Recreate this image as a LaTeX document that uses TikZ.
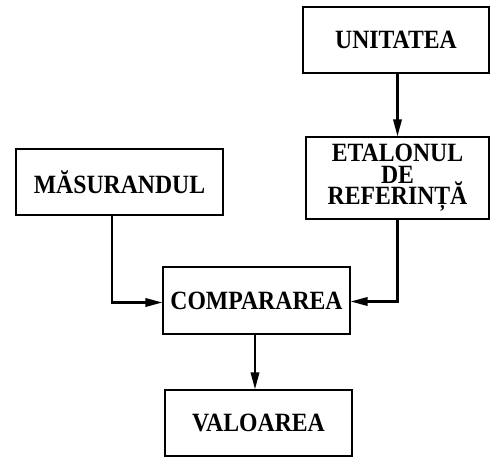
\documentclass[tikz,border=0pt]{standalone}
\usepackage{fontspec}
\setmainfont{Liberation Serif}
\newfontfamily\blocfont{Liberation Serif}[FakeStretch=0.9]
\usetikzlibrary{arrows.meta}

\begin{document}
\begin{tikzpicture}[
    bloc/.style={draw, line width=0.028cm, inner sep=0pt, align=center,
      font={\blocfont\fontsize{15}{12.2}\selectfont\bfseries\lineskiplimit=-20pt\relax}},
    sageata/.style={line width=0.042cm, -{Triangle[length=0.34cm,width=0.17cm]}}
  ]
                \useasboundingbox (0.000000,0.000000) rectangle (9.800000,9.140000);
                
                % Drawing box UNITATEA
                \node [bloc, minimum width=3.72cm, minimum height=1.32cm] (unitatea) at (7.920000,8.340000) {UNITATEA};%
                
                % Drawing box ETALONUL DE REFERINTA
                \node [bloc, minimum width=3.66cm, minimum height=1.64cm] (etalon) at (7.950000,5.580000) {ETALONUL\\DE\\REFERINȚĂ};%
                
                % Drawing box MASURANDUL
                \node [bloc, minimum width=4.14cm, minimum height=1.32cm] (masurand) at (2.390000,5.500000) {MĂSURANDUL};%
                
                % Drawing box COMPARAREA
                \node [bloc, minimum width=3.74cm, minimum height=1.34cm] (comparare) at (5.130000,3.130000) {COMPARAREA};%
                
                % Drawing box VALOAREA
                \node [bloc, minimum width=3.74cm, minimum height=1.32cm] (valoare) at (5.170000,0.680000) {VALOAREA};%
                
                % Drawing arrow UNITATEA -> ETALONUL
                \draw [sageata] (unitatea.south -| etalon.north) -- (etalon.north);%
                
                % Drawing arrow MASURANDUL -> COMPARAREA
                \draw [sageata] ([xshift=-0.150000cm]masurand.south) |- ([yshift=-0.040000cm]comparare.west);%
                
                % Drawing arrow ETALONUL -> COMPARAREA
                \draw [sageata] (etalon.south) |- ([yshift=-0.020000cm]comparare.east);%
                
                % Drawing arrow COMPARAREA -> VALOAREA
                \draw [sageata] ([xshift=-0.030000cm]comparare.south) -- ([xshift=-0.030000cm]comparare.south |- valoare.north);%
\end{tikzpicture}
\end{document}
